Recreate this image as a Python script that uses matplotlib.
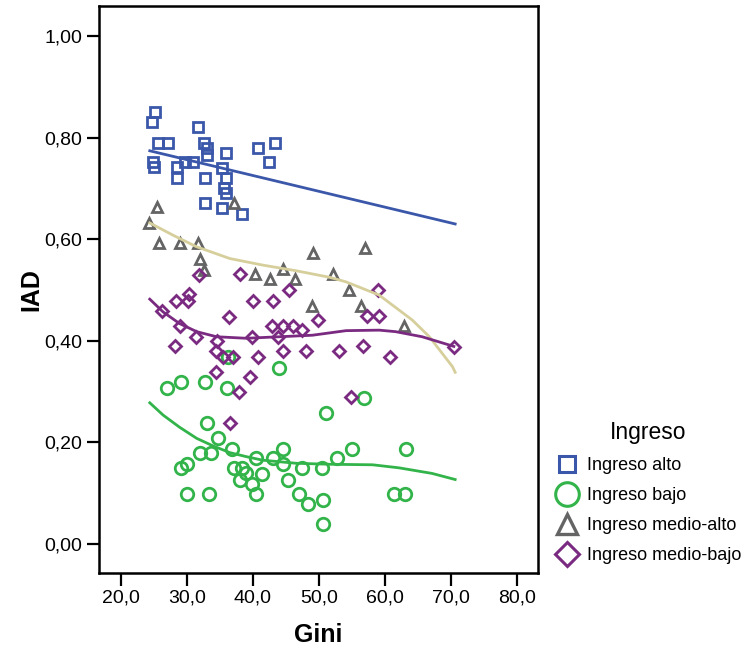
import matplotlib
matplotlib.use("Agg")
import matplotlib.pyplot as plt
from matplotlib.lines import Line2D

plt.rcParams['font.family'] = ['Liberation Sans', 'DejaVu Sans']

# ---------------- data ----------------
categories = ["Ingreso alto", "Ingreso bajo", "Ingreso medio-alto", "Ingreso medio-bajo"]

alto_x = [25.2, 24.7, 31.7, 25.6, 27.1, 32.6, 33.0, 33.1, 40.7, 43.3, 36.0, 24.9, 25.0,
          28.5, 29.7, 30.9, 35.3, 42.5, 28.5, 32.7, 36.0, 35.6, 36.0, 32.7, 35.4, 38.4]
alto_y = [0.850, 0.831, 0.821, 0.789, 0.789, 0.789, 0.780, 0.765, 0.780, 0.789, 0.770, 0.752, 0.742,
          0.742, 0.752, 0.752, 0.740, 0.752, 0.720, 0.720, 0.720, 0.701, 0.691, 0.671, 0.661, 0.650]

bajo_x = [27.0, 29.2, 32.7, 36.1, 44.0, 36.2, 33.1, 51.0, 34.7, 36.9, 32.0, 33.6, 44.5, 40.5,
          43.1, 44.6, 47.5, 50.5, 29.1, 30.1, 37.1, 38.3, 39.0, 41.4, 38.0, 39.8, 45.3, 30.1,
          33.4, 40.4, 47.0, 48.3, 50.6, 50.6, 56.8, 55.0, 63.1, 52.7, 61.4, 63.0]
bajo_y = [0.308, 0.318, 0.318, 0.308, 0.347, 0.369, 0.238, 0.257, 0.208, 0.188, 0.179, 0.179, 0.188, 0.169,
          0.169, 0.157, 0.149, 0.149, 0.149, 0.157, 0.149, 0.149, 0.139, 0.138, 0.126, 0.118, 0.127, 0.098,
          0.098, 0.098, 0.098, 0.078, 0.087, 0.039, 0.288, 0.187, 0.187, 0.169, 0.098, 0.098]

medalto_x = [24.3, 25.5, 37.2, 25.8, 29.0, 31.7, 32.0, 32.6, 40.3, 42.6, 44.6, 46.4, 49.1,
             49.0, 52.1, 57.0, 54.5, 56.3, 62.9]
medalto_y = [0.631, 0.663, 0.671, 0.592, 0.592, 0.592, 0.561, 0.539, 0.531, 0.521, 0.541, 0.521, 0.572,
             0.468, 0.531, 0.582, 0.500, 0.468, 0.429]

medbajo_x = [31.9, 38.0, 45.5, 30.4, 28.3, 30.2, 40.0, 43.1, 26.3, 36.4, 49.8, 29.0, 42.9, 44.6,
             46.1, 47.5, 31.4, 34.5, 39.8, 43.8, 28.2, 59.0, 57.3, 59.1, 44.6, 48.1, 53.1, 56.7,
             60.7, 70.4, 34.4, 35.5, 37.0, 40.8, 34.4, 39.6, 37.9, 36.5, 54.8]
medbajo_y = [0.530, 0.531, 0.500, 0.492, 0.479, 0.479, 0.479, 0.479, 0.459, 0.447, 0.440, 0.429, 0.429, 0.429,
             0.429, 0.421, 0.408, 0.400, 0.408, 0.408, 0.390, 0.500, 0.449, 0.449, 0.379, 0.379, 0.379, 0.390,
             0.369, 0.388, 0.379, 0.369, 0.369, 0.369, 0.338, 0.329, 0.299, 0.239, 0.289]

# fit lines
fit_alto_x = [24.4, 70.6]
fit_alto_y = [0.774, 0.630]

fit_bajo_x = [24.4, 26.4, 28.9, 31.5, 34.0, 36.5, 39.0, 41.5, 46.5, 51.6, 58.1, 62.1, 67.1, 70.6]
fit_bajo_y = [0.278, 0.254, 0.230, 0.208, 0.193, 0.180, 0.172, 0.165, 0.159, 0.157, 0.156, 0.150, 0.139, 0.127]

fit_medalto_x = [24.4, 27.9, 31.5, 36.5, 41.5, 46.5, 51.6, 54.1, 59.1, 64.1, 66.7, 70.2, 70.6]
fit_medalto_y = [0.632, 0.608, 0.585, 0.562, 0.549, 0.538, 0.525, 0.516, 0.490, 0.441, 0.408, 0.349, 0.338]

fit_medbajo_x = [24.4, 26.4, 28.9, 31.5, 34.5, 39.0, 44.0, 49.0, 54.1, 59.1, 61.6, 65.6, 70.4]
fit_medbajo_y = [0.482, 0.457, 0.434, 0.418, 0.408, 0.405, 0.408, 0.411, 0.420, 0.421, 0.418, 0.408, 0.389]

xticks = [20, 30, 40, 50, 60, 70, 80]
xtick_labels = ["20,0", "30,0", "40,0", "50,0", "60,0", "70,0", "80,0"]
yticks = [0.0, 0.2, 0.4, 0.6, 0.8, 1.0]
ytick_labels = ["0,00", "0,20", "0,40", "0,60", "0,80", "1,00"]

# ---------------- styling ----------------
c_alto = "#3b57aa"
c_bajo = "#33b44a"
c_malto = "#646464"
c_mbajo = "#7a2a80"
c_malto_line = "#d6cf9c"

W, H = 756, 650
fig = plt.figure(figsize=(W / 100, H / 100), dpi=100)
ax = fig.add_axes([99 / W, 1 - 573 / H, (538 - 99) / W, (573 - 6) / H])

mew = 2.0
ax.plot(alto_x, alto_y, ls="none", marker="s", ms=7.0, mfc="none", mec=c_alto, mew=mew, zorder=3)
ax.plot(bajo_x, bajo_y, ls="none", marker="o", ms=9.0, mfc="none", mec=c_bajo, mew=mew, zorder=3)
ax.plot(medalto_x, medalto_y, ls="none", marker="^", ms=7.5, mfc="none", mec=c_malto, mew=mew, zorder=3)
ax.plot(medbajo_x, medbajo_y, ls="none", marker="D", ms=6.5, mfc="none", mec=c_mbajo, mew=mew, zorder=3)

lw = 2.0
ax.plot(fit_alto_x, fit_alto_y, color=c_alto, lw=lw, zorder=4)
ax.plot(fit_bajo_x, fit_bajo_y, color=c_bajo, lw=lw, zorder=4)
ax.plot(fit_medalto_x, fit_medalto_y, color=c_malto_line, lw=lw, zorder=4)
ax.plot(fit_medbajo_x, fit_medbajo_y, color=c_mbajo, lw=lw, zorder=4)

ax.set_xlim(16.72, 83.13)
ax.set_ylim(-0.057, 1.059)
ax.set_xticks(xticks)
ax.set_xticklabels(xtick_labels)
ax.set_yticks(yticks)
ax.set_yticklabels(ytick_labels)
ax.tick_params(axis="both", direction="out", length=9, width=1.6, labelsize=14, pad=3, color="black")
for sp in ax.spines.values():
    sp.set_linewidth(1.8)
    sp.set_color("black")

ax.set_xlabel("Gini", fontsize=18, fontweight="bold", labelpad=12)
ax.set_ylabel("IAD", fontsize=18, fontweight="bold", labelpad=1)

handles = [
    Line2D([], [], ls="none", marker="s", ms=12, mfc="none", mec=c_alto, mew=2.2),
    Line2D([], [], ls="none", marker="o", ms=17, mfc="none", mec=c_bajo, mew=2.2),
    Line2D([], [], ls="none", marker="^", ms=15, mfc="none", mec=c_malto, mew=2.4),
    Line2D([], [], ls="none", marker="D", ms=12, mfc="none", mec=c_mbajo, mew=2.2),
]
leg = fig.legend(handles, categories, title="Ingreso", loc="upper left",
                 bbox_to_anchor=(556 / W, 1 - 421 / H), frameon=False,
                 fontsize=13, title_fontsize=16.5, handlelength=1.25,
                 handletextpad=0.45, labelspacing=0.72, borderaxespad=0, borderpad=0)

fig.savefig("out.png", dpi=100)
